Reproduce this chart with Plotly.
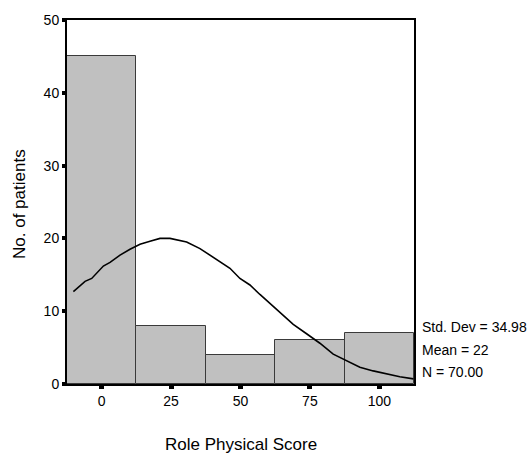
import plotly.graph_objects as go

# Histogram bins (centers) and counts
bin_centers = [0, 25, 50, 75, 100]
counts = [45, 8, 4, 6, 7]

# Fitted normal curve
curve_x = [-10.2, -6.0, -3.6, 0.6, 3.0, 6.6, 10.2, 13.8, 17.4, 21.0, 24.6, 28.2,
           30.6, 35.4, 39.0, 42.6, 46.2, 49.8, 53.4, 57.0, 60.6, 64.2, 69.0, 73.8,
           78.6, 83.4, 88.2, 93.0, 97.8, 102.6, 107.4, 112.3]
curve_y = [12.7, 14.1, 14.5, 16.2, 16.7, 17.7, 18.5, 19.2, 19.6, 20.0, 20.0, 19.7,
           19.5, 18.6, 17.7, 16.7, 15.9, 14.5, 13.6, 12.3, 11.1, 9.8, 8.2, 6.9,
           5.6, 4.1, 3.2, 2.3, 1.8, 1.4, 1.0, 0.7]

x_ticks = [0, 25, 50, 75, 100]
y_ticks = [0, 10, 20, 30, 40, 50]
stats_text = ["Std. Dev = 34.98", "Mean = 22", "N = 70.00"]

FONT = "Liberation Sans, Arial, sans-serif"

fig = go.Figure()
fig.add_trace(go.Bar(
    x=bin_centers, y=counts, width=25,
    marker=dict(color="#c0c0c0", line=dict(color="#3a3a3a", width=1)),
    showlegend=False,
))
fig.add_trace(go.Scatter(
    x=curve_x, y=curve_y, mode="lines",
    line=dict(color="black", width=1.6),
    showlegend=False,
))

fig.update_layout(
    width=530, height=456,
    margin=dict(l=67, r=116, t=14, b=72),
    paper_bgcolor="white", plot_bgcolor="white",
    font=dict(family=FONT, size=14, color="black"),
    bargap=0,
)
fig.update_xaxes(
    range=[-12.5, 112.5], tickvals=x_ticks, ticktext=[str(v) for v in x_ticks],
    showgrid=False, zeroline=False,
    showline=True, linecolor="black", linewidth=2, mirror=True,
    ticks="outside", ticklen=3, tickwidth=5, tickcolor="black",
    tickfont=dict(size=14),
)
fig.update_yaxes(
    range=[0, 50], tickvals=y_ticks,
    showgrid=False, zeroline=False,
    showline=True, linecolor="black", linewidth=2, mirror=True,
    ticks="outside", ticklen=3, tickwidth=4, tickcolor="black",
    tickfont=dict(size=14),
)

annotations = [
    dict(text="Role Physical Score", xref="paper", yref="paper", x=0.5, y=-0.165,
         xanchor="center", yanchor="middle", showarrow=False, font=dict(size=17)),
    dict(text="No. of patients", xref="paper", yref="paper", x=-0.1354, y=0.4946,
         xanchor="center", yanchor="middle", textangle=-90, showarrow=False,
         font=dict(size=17)),
]
for txt, yp in zip(stats_text, [0.157, 0.094, 0.032]):
    annotations.append(dict(text=txt, xref="paper", yref="paper", x=1.0173, y=yp,
                            xanchor="left", yanchor="middle", showarrow=False,
                            font=dict(size=14)))
fig.update_layout(annotations=annotations)

fig.write_html("out.html")
